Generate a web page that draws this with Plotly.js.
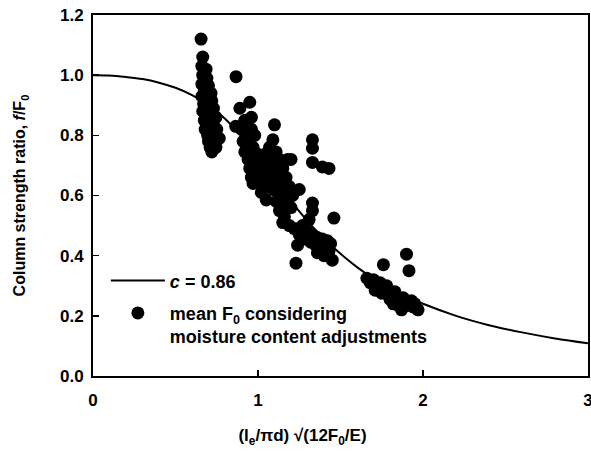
<!DOCTYPE html>
<html>
<head>
<meta charset="utf-8">
<script src="https://cdn.plot.ly/plotly-3.0.1.min.js"></script>
<style>html,body{margin:0;padding:0;background:#fff;}#chart{width:591px;height:456px;}</style>
</head>
<body>
<div id="chart"></div>
<script>
// Model curve (c = 0.86)
var curveX = [0, 0.1, 0.2, 0.3, 0.4, 0.5, 0.6, 0.7, 0.8, 0.9, 1.0, 1.1, 1.2, 1.3, 1.4, 1.5, 1.6, 1.7, 1.8, 1.9, 2.0, 2.2, 2.4, 2.6, 2.8, 3.0];
var curveY = [1.0, 0.999, 0.994, 0.987, 0.975, 0.958, 0.934, 0.901, 0.855, 0.797, 0.728, 0.654, 0.581, 0.515, 0.457, 0.406, 0.362, 0.324, 0.292, 0.264, 0.240, 0.200, 0.169, 0.145, 0.125, 0.109];

// Test data: mean F0 considering moisture content adjustments
var groupA_X = [0.655,0.665,0.66,0.685,0.665,0.69,0.66,0.70,0.675,0.715,0.66,0.69,0.72,0.67,0.70,0.73,0.665,0.69,0.72,0.745,0.675,0.70,0.73,0.68,0.715,0.75,0.695,0.725,0.765,0.70,0.74,0.71,0.72,0.745];
var groupA_Y = [1.12,1.06,1.03,1.02,1.00,0.99,0.97,0.965,0.95,0.94,0.93,0.925,0.915,0.905,0.895,0.89,0.88,0.87,0.865,0.86,0.85,0.84,0.835,0.82,0.815,0.82,0.80,0.795,0.79,0.78,0.775,0.76,0.745,0.76];

var groupB_X = [0.867,0.865,0.89,0.95,0.96,0.92,0.90,0.93,0.96,0.98,0.91,0.94,0.97,0.92,0.95,0.99,0.94,0.97,1.00,0.95,0.98,1.01,0.96,0.99,1.02,0.97,1.03,1.04,0.93];
var groupB_Y = [0.995,0.83,0.89,0.91,0.86,0.85,0.82,0.81,0.82,0.80,0.78,0.77,0.76,0.745,0.735,0.74,0.72,0.70,0.71,0.69,0.68,0.69,0.66,0.65,0.66,0.64,0.70,0.72,0.80];

var groupC_X = [1.10,1.09,1.07,1.05,1.08,1.11,1.06,1.10,1.13,1.18,1.05,1.08,1.12,1.15,1.07,1.10,1.14,1.17,1.20,1.09,1.12,1.16,1.19,1.05,1.11,1.14,1.18,1.21,1.13,1.16,1.20,1.25,1.15,1.19,1.04,1.02];
var groupC_Y = [0.835,0.785,0.76,0.74,0.73,0.745,0.71,0.70,0.72,0.72,0.68,0.675,0.68,0.69,0.65,0.64,0.655,0.66,0.72,0.62,0.61,0.62,0.63,0.585,0.58,0.575,0.59,0.60,0.55,0.53,0.56,0.62,0.51,0.50,0.63,0.61];

var groupD_X = [1.33,1.33,1.33,1.39,1.43,1.33,1.33,1.46,1.31,1.27,1.30,1.33,1.36,1.39,1.42,1.44,1.29,1.32,1.35,1.38,1.41,1.43,1.36,1.40,1.45,1.24,1.23,1.25,1.22];
var groupD_Y = [0.785,0.757,0.71,0.695,0.69,0.575,0.55,0.525,0.52,0.50,0.48,0.47,0.46,0.455,0.45,0.44,0.455,0.445,0.435,0.43,0.425,0.415,0.41,0.40,0.385,0.435,0.375,0.47,0.49];

var groupE_X = [1.76,1.90,1.915,1.66,1.68,1.70,1.72,1.71,1.74,1.76,1.75,1.78,1.79,1.81,1.80,1.83,1.84,1.86,1.85,1.88,1.89,1.91,1.93,1.94,1.96,1.97,1.95,1.87,1.82];
var groupE_Y = [0.37,0.405,0.35,0.325,0.31,0.32,0.30,0.285,0.31,0.295,0.275,0.30,0.28,0.27,0.255,0.28,0.26,0.25,0.235,0.26,0.245,0.235,0.25,0.23,0.225,0.22,0.24,0.22,0.24];

var xTicks = [0, 1, 2, 3];
var yTicks = [0.0, 0.2, 0.4, 0.6, 0.8, 1.0, 1.2];

var ptX = groupA_X.concat(groupB_X, groupC_X, groupD_X, groupE_X);
var ptY = groupA_Y.concat(groupB_Y, groupC_Y, groupD_Y, groupE_Y);

var FONT = 'Liberation Sans, Arial, sans-serif';

var traces = [
  {
    x: curveX, y: curveY, type: 'scatter', mode: 'lines',
    line: {color: '#000', width: 2, shape: 'spline'},
    name: '<i>c</i> = 0.86', legendgroup: 'model'
  },
  {
    x: ptX, y: ptY, type: 'scatter', mode: 'markers',
    marker: {color: '#000', size: 13, line: {width: 0}},
    name: 'mean F<sub>0</sub> considering<br>moisture content adjustments', legendgroup: 'data'
  }
];

var layout = {
  width: 591, height: 456,
  margin: {l: 93, r: 3, t: 15, b: 80},
  paper_bgcolor: '#fff', plot_bgcolor: '#fff',
  font: {family: FONT, color: '#000', size: 16, weight: 'bold'},
  showlegend: true,
  legend: {
    x: 0.026, y: 0.315, xanchor: 'left', yanchor: 'top',
    bgcolor: 'rgba(0,0,0,0)', borderwidth: 0,
    font: {family: FONT, size: 18, color: '#000', weight: 'bold'},
    itemwidth: 54, valign: 'top', traceorder: 'grouped', tracegroupgap: 6
  },
  xaxis: {
    range: [0, 3], tickvals: xTicks, ticktext: xTicks.map(String),
    showgrid: false, zeroline: false,
    showline: true, linecolor: '#000', linewidth: 2, mirror: true,
    ticks: 'inside', ticklen: 6, tickwidth: 1.5, tickcolor: '#000',
    tickfont: {family: FONT, size: 17, weight: 'bold'},
    ticklabelstandoff: 8, ticklabeloverflow: 'allow',
    title: {text: '(l<sub>e</sub>/πd) √(12F<sub>0</sub>/E)', font: {family: FONT, size: 17, weight: 'bold'}, standoff: 20}
  },
  yaxis: {
    range: [0, 1.2], tickvals: yTicks, ticktext: yTicks.map(function(v){return v.toFixed(1);}),
    showgrid: false, zeroline: false,
    showline: true, linecolor: '#000', linewidth: 2, mirror: true,
    ticks: 'inside', ticklen: 6, tickwidth: 1.5, tickcolor: '#000',
    tickfont: {family: FONT, size: 17, weight: 'bold'},
    ticklabelstandoff: 4,
    title: {text: 'Column strength ratio, <i>f</i>/F<sub>0</sub>', font: {family: FONT, size: 16, weight: 'bold'}, standoff: 30}
  }
};

Plotly.newPlot('chart', traces, layout, {staticPlot: true, displayModeBar: false}).then(function(gd){
  // shift x-axis title to match reference placement (left of centre)
  var t = gd.querySelector('.g-xtitle text');
  if (t) { t.setAttribute('transform', 'translate(-38,0)'); }
});
</script>
</body>
</html>
